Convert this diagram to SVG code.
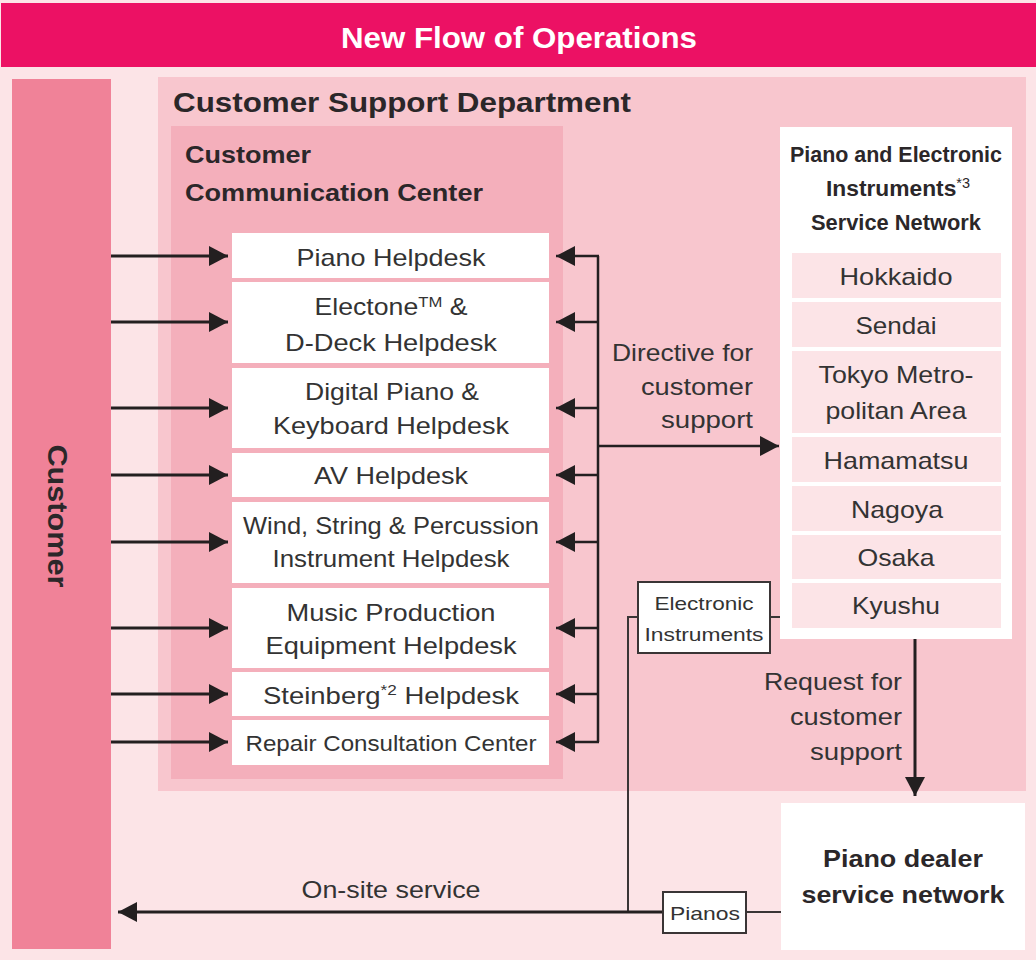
<svg xmlns="http://www.w3.org/2000/svg" width="1036" height="960" viewBox="0 0 1036 960">
<defs>
<style>
text{font-family:"Liberation Sans",Arial,sans-serif;fill:#2b2729}
.b{font-weight:bold}
.hd{font-size:24px;text-anchor:middle;fill:#333}
.rg{font-size:24px;text-anchor:middle;fill:#333}
.lbl{font-size:24px;text-anchor:end;fill:#333}
.sm{font-size:19px;text-anchor:middle;fill:#333}
.desk{fill:#ffffff}
.cell{fill:#fce4e7}
.ln{stroke:#231f20;stroke-width:3;fill:none}
.thin{stroke:#3a3536;stroke-width:2;fill:none}
.tag{fill:#ffffff;stroke:#3a3536;stroke-width:2}
</style>
<marker id="ah" viewBox="0 0 19 20" refX="19" refY="10" markerWidth="19" markerHeight="20" markerUnits="userSpaceOnUse" orient="auto">
<path d="M0,0 L19,10 L0,20 Z" fill="#231f20"/>
</marker>
</defs>

<rect x="0" y="0" width="1036" height="960" fill="#fce4e7"/>

<g id="header">
<rect x="1" y="3" width="1035" height="64" fill="#ec1164"/>
<text x="519" y="48" class="b" font-size="29" text-anchor="middle" style="fill:#fff" textLength="356" lengthAdjust="spacingAndGlyphs">New Flow of Operations</text>
</g>

<g id="customer">
<rect x="12" y="79" width="99" height="870" fill="#f08298"/>
<text transform="translate(58,516) rotate(90)" y="10" class="b" font-size="28" text-anchor="middle" textLength="143" lengthAdjust="spacingAndGlyphs">Customer</text>
</g>

<g id="customer-support-department">
<rect x="158" y="77" width="868" height="714" fill="#f8c6ce"/>
<text x="173" y="112" class="b" font-size="27" textLength="458" lengthAdjust="spacingAndGlyphs">Customer Support Department</text>
</g>

<g id="customer-communication-center">
<rect x="171" y="126" width="392" height="653" fill="#f4afbb"/>
<text x="185" y="163" class="b" font-size="24" textLength="126" lengthAdjust="spacingAndGlyphs">Customer</text>
<text x="185" y="201" class="b" font-size="24" textLength="298" lengthAdjust="spacingAndGlyphs">Communication Center</text>
</g>

<g id="piano-helpdesk">
<rect class="desk" x="232" y="233" width="317" height="45"/>
<text class="hd" x="391" y="266" textLength="189" lengthAdjust="spacingAndGlyphs">Piano Helpdesk</text>
</g>
<g id="electone-helpdesk">
<rect class="desk" x="232" y="282" width="317" height="81"/>
<text class="hd" x="391" y="315" textLength="153" lengthAdjust="spacingAndGlyphs">Electone<tspan font-size="15" dy="-8">TM</tspan><tspan dy="8"> &amp;</tspan></text>
<text class="hd" x="391" y="351" textLength="212" lengthAdjust="spacingAndGlyphs">D-Deck Helpdesk</text>
</g>
<g id="digital-piano-helpdesk">
<rect class="desk" x="232" y="368" width="317" height="80"/>
<text class="hd" x="392" y="400" textLength="174" lengthAdjust="spacingAndGlyphs">Digital Piano &amp;</text>
<text class="hd" x="391" y="434" textLength="236" lengthAdjust="spacingAndGlyphs">Keyboard Helpdesk</text>
</g>
<g id="av-helpdesk">
<rect class="desk" x="232" y="453" width="317" height="44"/>
<text class="hd" x="391" y="484" textLength="154" lengthAdjust="spacingAndGlyphs">AV Helpdesk</text>
</g>
<g id="wind-helpdesk">
<rect class="desk" x="232" y="502" width="317" height="81"/>
<text class="hd" x="391" y="534" textLength="296" lengthAdjust="spacingAndGlyphs">Wind, String &amp; Percussion</text>
<text class="hd" x="391" y="567" textLength="237" lengthAdjust="spacingAndGlyphs">Instrument Helpdesk</text>
</g>
<g id="music-production-helpdesk">
<rect class="desk" x="232" y="588" width="317" height="80"/>
<text class="hd" x="391" y="621" textLength="209" lengthAdjust="spacingAndGlyphs">Music Production</text>
<text class="hd" x="391" y="654" textLength="251" lengthAdjust="spacingAndGlyphs">Equipment Helpdesk</text>
</g>
<g id="steinberg-helpdesk">
<rect class="desk" x="232" y="672" width="317" height="44"/>
<text class="hd" x="391" y="704" textLength="256" lengthAdjust="spacingAndGlyphs">Steinberg<tspan font-size="15" dy="-9">*2</tspan><tspan dy="9"> Helpdesk</tspan></text>
</g>
<g id="repair-consultation-center">
<rect class="desk" x="232" y="720" width="317" height="45"/>
<text class="hd" x="391" y="751" style="font-size:22px" textLength="291" lengthAdjust="spacingAndGlyphs">Repair Consultation Center</text>
</g>

<g id="service-network">
<rect x="780" y="127" width="232" height="512" fill="#ffffff"/>
<text x="896" y="162" class="b" font-size="22" text-anchor="middle" textLength="212" lengthAdjust="spacingAndGlyphs">Piano and Electronic</text>
<text x="898" y="196" class="b" font-size="22" text-anchor="middle" textLength="144" lengthAdjust="spacingAndGlyphs">Instruments<tspan font-size="14" font-weight="normal" dy="-8">*3</tspan></text>
<text x="896" y="230" class="b" font-size="22" text-anchor="middle" textLength="170" lengthAdjust="spacingAndGlyphs">Service Network</text>
</g>
<g id="hokkaido"><rect class="cell" x="792" y="253" width="209" height="45"/><text class="rg" x="896" y="285" textLength="113" lengthAdjust="spacingAndGlyphs">Hokkaido</text></g>
<g id="sendai"><rect class="cell" x="792" y="302" width="209" height="45"/><text class="rg" x="896" y="334" textLength="81" lengthAdjust="spacingAndGlyphs">Sendai</text></g>
<g id="tokyo"><rect class="cell" x="792" y="351" width="209" height="82"/><text class="rg" x="896" y="383" textLength="155" lengthAdjust="spacingAndGlyphs">Tokyo Metro-</text><text class="rg" x="896" y="419" textLength="141" lengthAdjust="spacingAndGlyphs">politan Area</text></g>
<g id="hamamatsu"><rect class="cell" x="792" y="437" width="209" height="45"/><text class="rg" x="896" y="469" textLength="145" lengthAdjust="spacingAndGlyphs">Hamamatsu</text></g>
<g id="nagoya"><rect class="cell" x="792" y="486" width="209" height="45"/><text class="rg" x="897" y="518" textLength="92" lengthAdjust="spacingAndGlyphs">Nagoya</text></g>
<g id="osaka"><rect class="cell" x="792" y="535" width="209" height="44"/><text class="rg" x="896" y="566" textLength="77" lengthAdjust="spacingAndGlyphs">Osaka</text></g>
<g id="kyushu"><rect class="cell" x="792" y="583" width="209" height="45"/><text class="rg" x="896" y="614" textLength="88" lengthAdjust="spacingAndGlyphs">Kyushu</text></g>

<g id="piano-dealer-network">
<rect x="781" y="803" width="244" height="147" fill="#ffffff"/>
<text x="903" y="867" class="b" font-size="24" text-anchor="middle" textLength="160" lengthAdjust="spacingAndGlyphs">Piano dealer</text>
<text x="903" y="903" class="b" font-size="24" text-anchor="middle" textLength="203" lengthAdjust="spacingAndGlyphs">service network</text>
</g>

<g id="connectors">
<line class="ln" x1="111" y1="256" x2="228" y2="256" marker-end="url(#ah)"/>
<line class="ln" x1="111" y1="322" x2="228" y2="322" marker-end="url(#ah)"/>
<line class="ln" x1="111" y1="408" x2="228" y2="408" marker-end="url(#ah)"/>
<line class="ln" x1="111" y1="475" x2="228" y2="475" marker-end="url(#ah)"/>
<line class="ln" x1="111" y1="542" x2="228" y2="542" marker-end="url(#ah)"/>
<line class="ln" x1="111" y1="628" x2="228" y2="628" marker-end="url(#ah)"/>
<line class="ln" x1="111" y1="694" x2="228" y2="694" marker-end="url(#ah)"/>
<line class="ln" x1="111" y1="742" x2="228" y2="742" marker-end="url(#ah)"/>

<path class="ln" style="stroke-width:2.5" d="M598,256 V742"/>
<line class="ln" style="stroke-width:2.5" x1="599" y1="256" x2="556" y2="256" marker-end="url(#ah)"/>
<line class="ln" style="stroke-width:2.5" x1="599" y1="322" x2="556" y2="322" marker-end="url(#ah)"/>
<line class="ln" style="stroke-width:2.5" x1="599" y1="408" x2="556" y2="408" marker-end="url(#ah)"/>
<line class="ln" style="stroke-width:2.5" x1="599" y1="475" x2="556" y2="475" marker-end="url(#ah)"/>
<line class="ln" style="stroke-width:2.5" x1="599" y1="542" x2="556" y2="542" marker-end="url(#ah)"/>
<line class="ln" style="stroke-width:2.5" x1="599" y1="628" x2="556" y2="628" marker-end="url(#ah)"/>
<line class="ln" style="stroke-width:2.5" x1="599" y1="694" x2="556" y2="694" marker-end="url(#ah)"/>
<line class="ln" style="stroke-width:2.5" x1="599" y1="742" x2="556" y2="742" marker-end="url(#ah)"/>
<line class="ln" style="stroke-width:2.5" x1="597" y1="446" x2="779" y2="446" marker-end="url(#ah)"/>
<text class="lbl" x="753" y="361" textLength="141" lengthAdjust="spacingAndGlyphs">Directive for</text>
<text class="lbl" x="753" y="395" textLength="112" lengthAdjust="spacingAndGlyphs">customer</text>
<text class="lbl" x="753" y="428" textLength="92" lengthAdjust="spacingAndGlyphs">support</text>

<line class="ln" x1="915" y1="639" x2="915" y2="796" marker-end="url(#ah)"/>
<text class="lbl" x="902" y="690" textLength="138" lengthAdjust="spacingAndGlyphs">Request for</text>
<text class="lbl" x="902" y="725" textLength="112" lengthAdjust="spacingAndGlyphs">customer</text>
<text class="lbl" x="902" y="760" textLength="92" lengthAdjust="spacingAndGlyphs">support</text>

<path class="thin" d="M780,617 H770 M638,617 H628 V912"/>
<line class="thin" x1="746" y1="912" x2="781" y2="912"/>
<line class="ln" x1="663" y1="912" x2="118" y2="912" marker-end="url(#ah)"/>
<text x="391" y="898" font-size="24" text-anchor="middle" style="fill:#333" textLength="179" lengthAdjust="spacingAndGlyphs">On-site service</text>
</g>

<g id="electronic-instruments-tag">
<rect class="tag" x="638" y="582" width="132" height="71"/>
<text class="sm" x="704" y="610" textLength="99" lengthAdjust="spacingAndGlyphs">Electronic</text>
<text class="sm" x="704" y="641" textLength="119" lengthAdjust="spacingAndGlyphs">Instruments</text>
</g>
<g id="pianos-tag">
<rect class="tag" x="663" y="892" width="83" height="41"/>
<text class="sm" x="705" y="920" textLength="70" lengthAdjust="spacingAndGlyphs">Pianos</text>
</g>
</svg>
